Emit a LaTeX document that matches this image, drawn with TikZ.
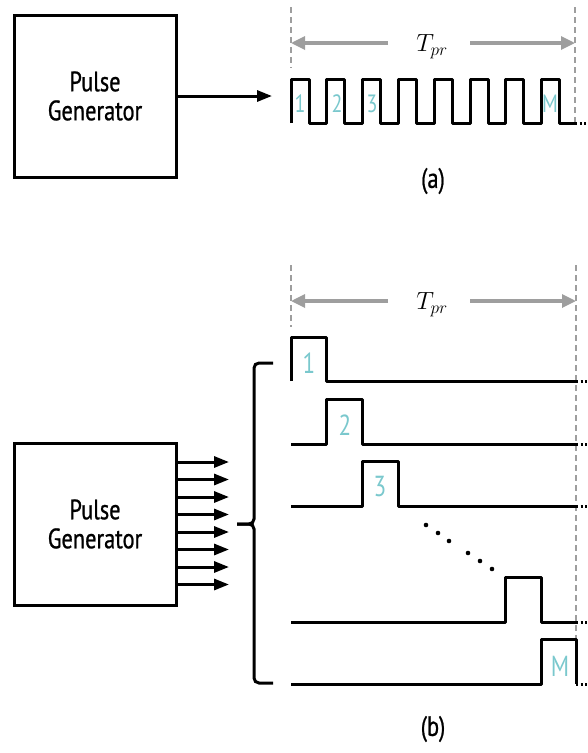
\documentclass[tikz,border=0pt]{standalone}
\usepackage{fontspec}
\newfontfamily\cond{PT Sans}[FakeStretch=0.8]
\newfontfamily\condb{PT Sans}[FakeStretch=0.8,FakeBold=0.8]
\usetikzlibrary{arrows.meta}
\definecolor{tealc}{RGB}{122,200,205}
\definecolor{grayc}{RGB}{158,158,158}
\begin{document}
\begin{tikzpicture}[x=1pt,y=-1pt,
  genbox/.style={draw, line width=3pt, minimum width=162pt, minimum height=162pt, inner sep=0pt,
    align=center, font=\condb\fontsize{28}{29}\selectfont},
  wave/.style={line width=3pt, line join=round},
  tail/.style={line width=3pt, dash pattern=on 2pt off 2.5pt},
  gdash/.style={draw=grayc, line width=2.8pt, dash pattern=on 6pt off 4pt},
  garrow/.style={draw=grayc, line width=3.2pt, -{Triangle[length=14pt,width=13pt]}},
  barrow/.style={line width=3pt, -{Triangle[length=15pt,width=11pt]}},
  lab/.style={text=tealc, inner sep=0pt, font=\cond\fontsize{25}{25}\selectfont},
  labb/.style={text=tealc, inner sep=0pt, font=\cond\fontsize{29}{29}\selectfont},
  capt/.style={inner sep=0pt, font=\condb\fontsize{28}{28}\selectfont},
  tlab/.style={inner sep=0pt, font=\fontsize{27}{28}\selectfont},
  dotc/.style={fill=black}
]
\useasboundingbox (0,0) rectangle (587,753);

% ---------- (a) ----------
\node[genbox] (box1) at (95,96) {Pulse\\Generator};
\coordinate (wa) at (272,96);
\draw[barrow] (box1.east |- wa) -- (wa);

\draw[gdash] (291,7) -- (291,68);
\draw[gdash] (575,7) -- (575,123);
\node[tlab] (tpa) at (432,47) {$T_{pr}$};
\coordinate (tal) at (291,43);
\coordinate (tar) at (575,43);
\draw[garrow] (388,43) -- (tal);
\draw[garrow] (470,43) -- (tar);

\draw[wave] (291,123)
  foreach \k in {0,...,7} { -- ({291+35.8*\k},123) -- ({291+35.8*\k},79) -- ({309+35.8*\k},79) -- ({309+35.8*\k},123) }
  -- (575,123);
\draw[tail] (575,123) -- (587,123);

\node[lab] (a1) at (300,103.5) {1};
\node[lab] (a2) at (337,103.5) {2};
\node[lab] (a3) at (372,103.5) {3};
\node[lab] (aM) at (550,103.5) {M};

\node[capt] (capa) at (433,181) {(a)};

% ---------- (b) ----------
\node[genbox] (box2) at (95,524) {Pulse\\Generator};
\foreach \i in {0,...,7} {
  \coordinate (o\i) at (229,{462+17.5*\i});
  \draw[barrow] (box2.east |- o\i) -- (o\i);
}

% brace
\coordinate (btip) at (237,524);
\draw[line width=3pt, rounded corners=5pt] (273,363) -- (254,363) -- (254,524) -- (btip);
\draw[line width=3pt, rounded corners=5pt] (273,683) -- (254,683) -- (254,524) -- (btip);

\draw[gdash] (291,265) -- (291,327);
\draw[gdash] (576,265) -- (576,684);
\node[tlab] (tpb) at (432,305) {$T_{pr}$};
\coordinate (tbl) at (291,301);
\coordinate (tbr) at (576,301);
\draw[garrow] (388,301) -- (tbl);
\draw[garrow] (470,301) -- (tbr);

% rows
\draw[wave] (291,381) -- (291,337) -- (326,337) -- (326,381) -- (576,381);
\draw[wave] (291,444) -- (326,444) -- (326,399) -- (362,399) -- (362,444) -- (576,444);
\draw[wave] (291,506) -- (362,506) -- (362,461) -- (398,461) -- (398,506) -- (576,506);
\draw[wave] (291,622) -- (505,622) -- (505,577) -- (541,577) -- (541,622) -- (576,622);
\draw[wave] (291,684) -- (541,684) -- (541,639) -- (576,639) -- (576,684);
\foreach \y in {381,444,506,622,684} { \draw[tail] (576,\y) -- (587,\y); }

\node[labb] (b1) at (309,363) {1};
\node[labb] (b2) at (345,425) {2};
\node[labb] (b3) at (380,487) {3};
\node[labb] (bM) at (560,666) {M};

\foreach \x/\y in {426/525, 438/533, 449/541, 468/553, 480/561, 492/569} {
  \fill[dotc] (\x,\y) circle (2.3pt);
}

\node[capt] (capb) at (433,729) {(b)};
\end{tikzpicture}
\end{document}
